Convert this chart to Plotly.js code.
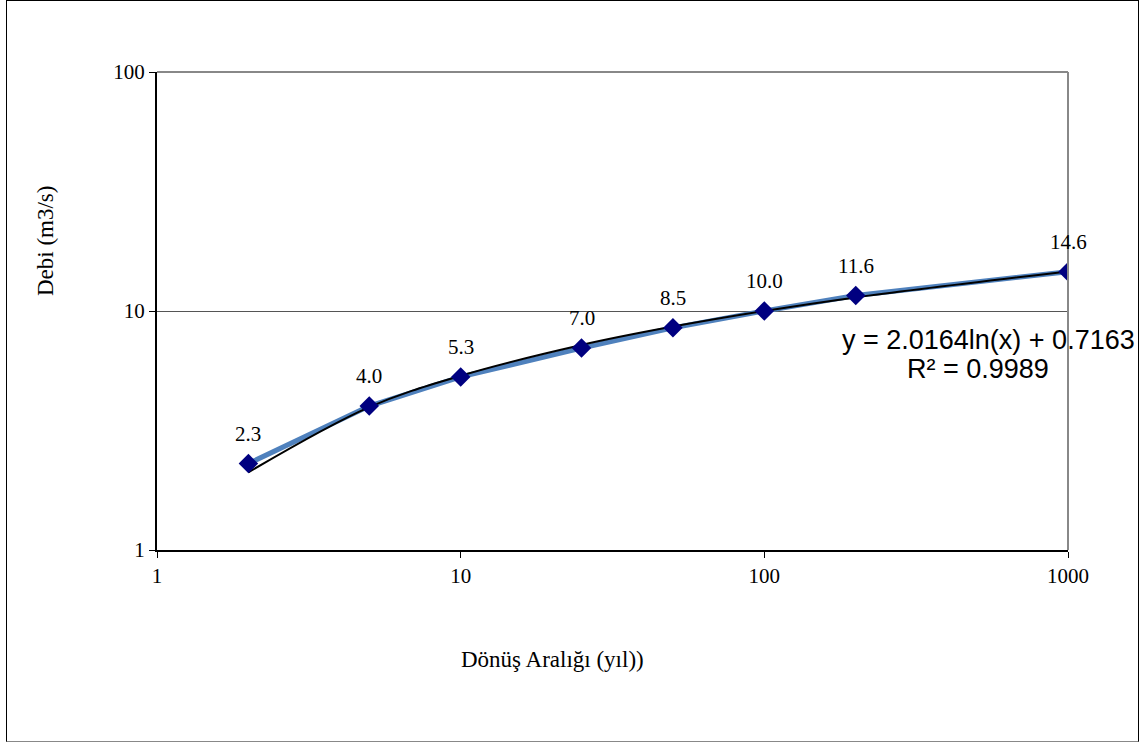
<!DOCTYPE html>
<html>
<head>
<meta charset="utf-8">
<script src="https://cdn.plot.ly/plotly-3.0.1.min.js"></script>
<style>
html,body{margin:0;padding:0;background:#fff;}
#wrap{position:relative;width:1147px;height:744px;}
#chart{position:absolute;left:0;top:0;width:1147px;height:744px;}
#frame{position:absolute;left:6px;top:0px;width:1131px;height:740px;border-left:1.5px solid #000;border-top:1.5px solid #000;border-right:1.5px solid #000;border-bottom:1.5px solid #888;pointer-events:none;}
</style>
</head>
<body>
<div id="wrap"><div id="chart"></div><div id="frame"></div></div>
<script>
// Data
const returnPeriods = [2, 5, 10, 25, 50, 100, 200, 1000];
const discharge = [2.3, 4.0, 5.3, 7.0, 8.5, 10.0, 11.6, 14.6];
const dataLabels = ['2.3', '4.0', '5.3', '7.0', '8.5', '10.0', '11.6', '14.6'];
const xTickVals = [1, 10, 100, 1000];
const yTickVals = [1, 10, 100];
// Trendline coefficients shown on the chart: y = a ln(x) + b
const trendA = 2.0164;
const trendB = 0.7163;
const equationText = 'y = 2.0164ln(x) + 0.7163';
const r2Text = 'R² = 0.9989';
const xTitle = 'Dönüş Aralığı (yıl))';
const yTitle = 'Debi (m3/s)';

const trendY = returnPeriods.map(x => trendA * Math.log(x) + trendB);

const serif = 'Liberation Serif, Times New Roman, serif';
const sans = 'Liberation Sans, Arial, sans-serif';

const traces = [
  {
    x: returnPeriods, y: discharge, type: 'scatter', mode: 'lines',
    line: {color: '#4F81BD', width: 5}, hoverinfo: 'skip', showlegend: false
  },
  {
    x: returnPeriods, y: trendY, type: 'scatter', mode: 'lines',
    line: {color: '#000000', width: 2, shape: 'spline'}, hoverinfo: 'skip', showlegend: false
  },
  {
    x: returnPeriods, y: discharge, type: 'scatter', mode: 'markers',
    marker: {symbol: 'diamond', size: 15, color: '#000080', line: {width: 0}},
    showlegend: false
  }
];

const annotations = returnPeriods.map((x, i) => ({
  x: Math.log10(x), y: Math.log10(discharge[i]), xref: 'x', yref: 'y',
  text: dataLabels[i], showarrow: false, yshift: 30,
  font: {family: serif, size: 21, color: '#000'}
}));
annotations.push(
  {xref: 'paper', yref: 'paper', x: 0.7497, y: 0.4393, xanchor: 'left', yanchor: 'middle',
   text: equationText, showarrow: false, font: {family: sans, size: 27, color: '#000'}},
  {xref: 'paper', yref: 'paper', x: 0.821, y: 0.3787, xanchor: 'left', yanchor: 'middle',
   text: r2Text, showarrow: false, font: {family: sans, size: 27, color: '#000'}},
  {xref: 'paper', yref: 'paper', x: 0.4336, y: -0.230, xanchor: 'center', yanchor: 'middle',
   text: xTitle, showarrow: false, font: {family: serif, size: 23, color: '#000'}},
  {xref: 'paper', yref: 'paper', x: -0.1229, y: 0.6464, xanchor: 'center', yanchor: 'middle',
   text: yTitle, textangle: -90, showarrow: false, font: {family: serif, size: 23, color: '#000'}}
);

const layout = {
  width: 1147, height: 744,
  margin: {l: 157, r: 79, t: 72, b: 194},
  paper_bgcolor: 'rgba(0,0,0,0)', plot_bgcolor: '#fff',
  showlegend: false,
  xaxis: {
    type: 'log', range: [0, 3], tickvals: xTickVals, ticktext: xTickVals.map(String),
    showgrid: false, zeroline: false, showline: true, linecolor: '#000', linewidth: 2,
    ticks: 'outside', ticklen: 6, tickcolor: '#000', tickwidth: 1,
    tickfont: {family: serif, size: 21, color: '#000'}
  },
  yaxis: {
    type: 'log', range: [0, 2], tickvals: yTickVals, ticktext: yTickVals.map(String),
    showgrid: true, gridcolor: '#555', gridwidth: 1, zeroline: false,
    showline: true, linecolor: '#000', linewidth: 2,
    ticks: 'outside', ticklen: 6, tickcolor: '#000', tickwidth: 1,
    tickfont: {family: serif, size: 21, color: '#000'}
  },
  shapes: [
    {type: 'line', xref: 'paper', yref: 'paper', x0: 0, x1: 1, y0: 1, y1: 1, line: {color: '#888', width: 2}},
    {type: 'line', xref: 'paper', yref: 'paper', x0: 1, x1: 1, y0: 0, y1: 1, line: {color: '#888', width: 2}}
  ],
  annotations: annotations
};

Plotly.newPlot('chart', traces, layout, {displayModeBar: false, staticPlot: true});
</script>
</body>
</html>
